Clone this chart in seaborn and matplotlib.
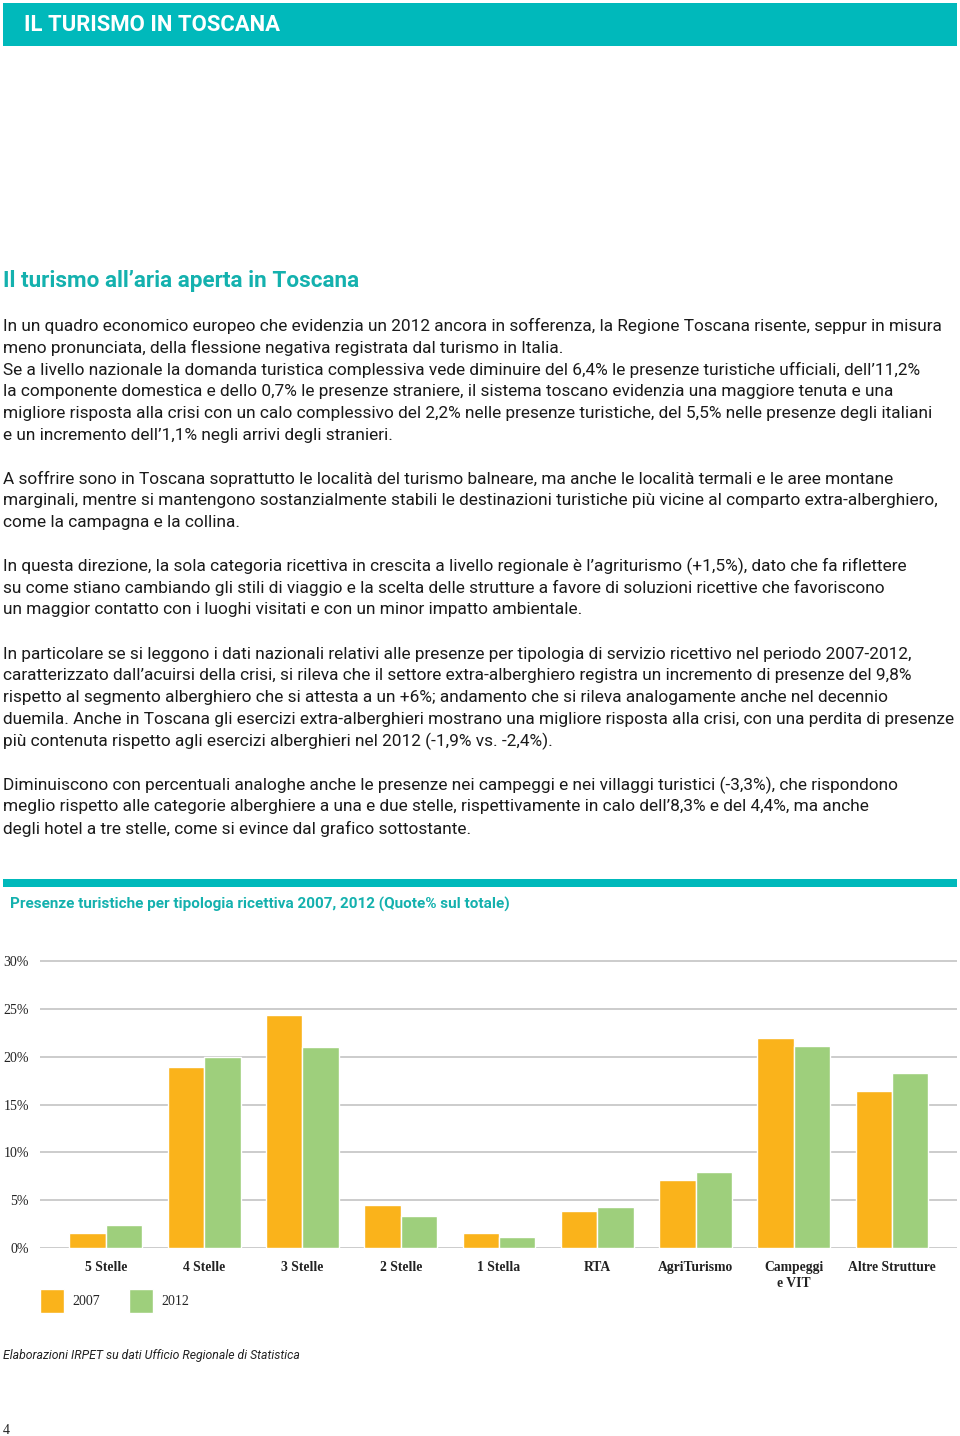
import pandas as pd
import matplotlib.pyplot as plt
import seaborn as sns

# Dati del grafico (quote % sul totale delle presenze)
categorie = ['5 Stelle', '4 Stelle', '3 Stelle', '2 Stelle', '1 Stella', 'RTA',
             'AgriTurismo', 'Campeggi\ne VIT', 'Altre Strutture']
quote_2007 = [1.6, 18.9, 24.4, 4.5, 1.6, 3.9, 7.1, 22.0, 16.4]
quote_2012 = [2.4, 20.0, 21.0, 3.3, 1.1, 4.3, 7.9, 21.1, 18.3]
anni = ['2007', '2012']
yticks = [0, 5, 10, 15, 20, 25, 30]

TEAL = '#00B9BB'
TEAL_TXT = '#14B1AE'
ARANCIO = '#FAB31B'
VERDE = '#9ECF7C'

sns.set_theme(style='white')
plt.rcParams['font.family'] = ['Roboto', 'DejaVu Sans']

W, H = 960, 1436
fig = plt.figure(figsize=(W / 100, H / 100), dpi=100)


def fx(x):
    return x / W


def fy(y):
    return 1 - y / H


# intestazione
fig.patches.append(plt.Rectangle((fx(3), fy(46)), fx(954), 43 / H, transform=fig.transFigure,
                                 facecolor=TEAL, edgecolor='none'))
fig.text(fx(24), fy(25), 'IL TURISMO IN TOSCANA', color='white', fontsize=15.9,
         fontweight='bold', va='center')

fig.text(fx(3), fy(281), 'Il turismo all\u2019aria aperta in Toscana', color=TEAL_TXT,
         fontsize=16.2, fontweight='bold', va='center')

paragrafi = [
    (326, ['In un quadro economico europeo che evidenzia un 2012 ancora in sofferenza, la Regione Toscana risente, seppur in misura',
           'meno pronunciata, della flessione negativa registrata dal turismo in Italia.',
           'Se a livello nazionale la domanda turistica complessiva vede diminuire del 6,4% le presenze turistiche ufficiali, dell\u201911,2%',
           'la componente domestica e dello 0,7% le presenze straniere, il sistema toscano evidenzia una maggiore tenuta e una',
           'migliore risposta alla crisi con un calo complessivo del 2,2% nelle presenze turistiche, del 5,5% nelle presenze degli italiani',
           'e un incremento dell\u20191,1% negli arrivi degli stranieri.']),
    (479, ['A soffrire sono in Toscana soprattutto le località del turismo balneare, ma anche le località termali e le aree montane',
           'marginali, mentre si mantengono sostanzialmente stabili le destinazioni turistiche più vicine al comparto extra-alberghiero,',
           'come la campagna e la collina.']),
    (566, ['In questa direzione, la sola categoria ricettiva in crescita a livello regionale è l\u2019agriturismo (+1,5%), dato che fa riflettere',
           'su come stiano cambiando gli stili di viaggio e la scelta delle strutture a favore di soluzioni ricettive che favoriscono',
           'un maggior contatto con i luoghi visitati e con un minor impatto ambientale.']),
    (654, ['In particolare se si leggono i dati nazionali relativi alle presenze per tipologia di servizio ricettivo nel periodo 2007-2012,',
           'caratterizzato dall\u2019acuirsi della crisi, si rileva che il settore extra-alberghiero registra un incremento di presenze del 9,8%',
           'rispetto al segmento alberghiero che si attesta a un +6%; andamento che si rileva analogamente anche nel decennio',
           'duemila. Anche in Toscana gli esercizi extra-alberghieri mostrano una migliore risposta alla crisi, con una perdita di presenze',
           'più contenuta rispetto agli esercizi alberghieri nel 2012 (-1,9% vs. -2,4%).']),
    (785, ['Diminuiscono con percentuali analoghe anche le presenze nei campeggi e nei villaggi turistici (-3,3%), che rispondono',
           'meglio rispetto alle categorie alberghiere a una e due stelle, rispettivamente in calo dell\u20198,3% e del 4,4%, ma anche',
           'degli hotel a tre stelle, come si evince dal grafico sottostante.']),
]
for y0, righe in paragrafi:
    for i, riga in enumerate(righe):
        fig.text(fx(3), fy(y0 + i * 21.9), riga, color='#1a1a1a', fontsize=12.4, va='center')

# banda e titolo del grafico
fig.patches.append(plt.Rectangle((fx(3), fy(887)), fx(954), 8 / H, transform=fig.transFigure,
                                 facecolor=TEAL, edgecolor='none'))
fig.text(fx(10), fy(904), 'Presenze turistiche per tipologia ricettiva 2007, 2012 (Quote% sul totale)',
         color=TEAL_TXT, fontsize=11, fontweight='bold', va='center')

# grafico a barre
df = pd.DataFrame({
    'categoria': categorie * 2,
    'anno': [anni[0]] * len(categorie) + [anni[1]] * len(categorie),
    'quota': quote_2007 + quote_2012,
})

ax = fig.add_axes([fx(40), fy(1248), 917 / W, 293 / H])
sns.barplot(data=df, x='categoria', y='quota', hue='anno', palette=[ARANCIO, VERDE],
            width=0.74, saturation=1, ax=ax)
ax.set_ylim(0, 30 * 293 / 287)
ax.set_xlim(-0.67, 8.66)
ax.set_yticks(yticks)
ax.set_yticklabels([f'{v}%' for v in yticks], family='Liberation Serif', fontsize=10, color='#222222')
ax.set_xticks(range(len(categorie)))
ax.set_xticklabels(categorie, family='Liberation Serif', fontweight='bold', fontsize=9.8,
                   color='#222222', linespacing=1.3)
ax.tick_params(axis='y', length=0, pad=8)
ax.tick_params(axis='x', length=0, pad=9.5)
ax.grid(axis='y', color='#C4C4C4', linewidth=1.2)
ax.set_axisbelow(True)
for s in ax.spines.values():
    s.set_visible(False)
ax.set_xlabel('')
ax.set_ylabel('')

sns.move_legend(ax, loc='upper left', bbox_to_anchor=(fx(40), fy(1289)),
                bbox_transform=fig.transFigure, ncol=2, frameon=False, title=None,
                borderpad=0, borderaxespad=0,
                handlelength=1.73, handleheight=2.28, handletextpad=0.58, columnspacing=2.1,
                prop={'family': 'Liberation Serif', 'size': 10})

fig.text(fx(3), fy(1355), 'Elaborazioni IRPET su dati Ufficio Regionale di Statistica',
         color='#222222', fontsize=8.8, style='italic', va='center')
fig.text(fx(3), fy(1430), '4', color='#222222', fontsize=10, family='Liberation Serif', va='center')

fig.savefig('out.png', dpi=100, facecolor='white')
